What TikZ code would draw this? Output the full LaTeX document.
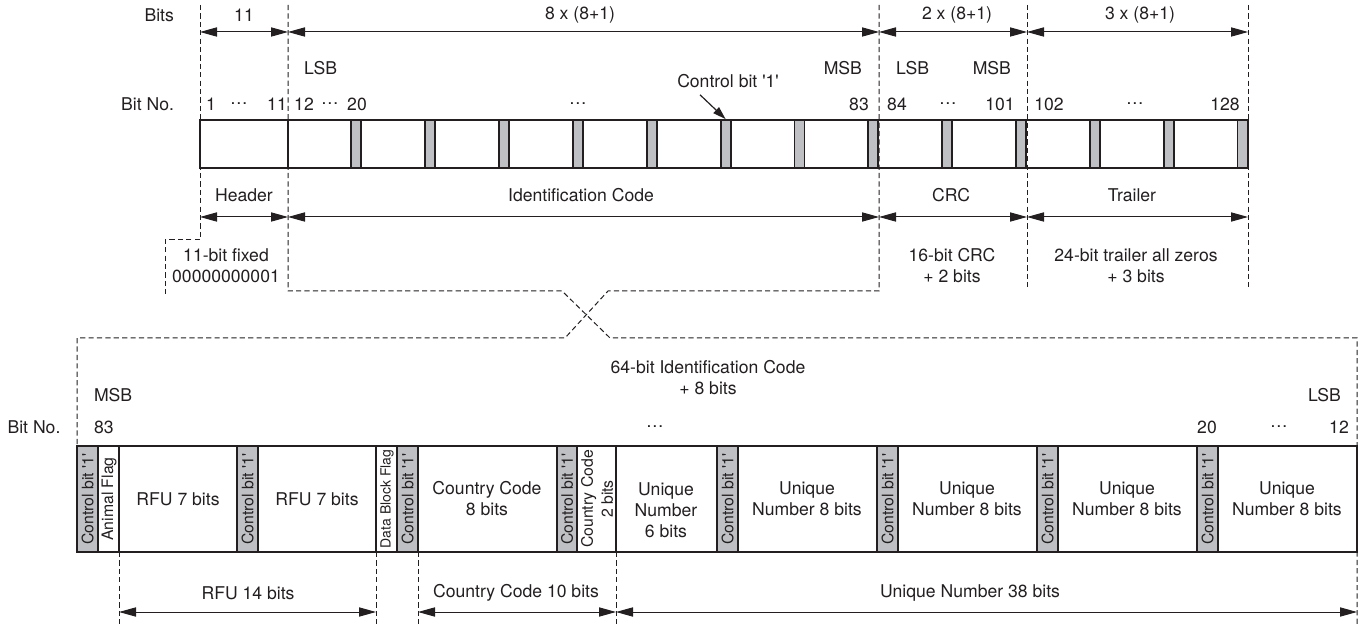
\documentclass[tikz,border=0pt]{standalone}
\usepackage{fontspec}
\usepackage{tikz}
\newfontfamily\heros{TeX Gyre Heros}
\usetikzlibrary{arrows.meta}
\definecolor{ink}{HTML}{231F20}
\definecolor{ctrlgray}{HTML}{BEC0C4}

\begin{document}
\begin{tikzpicture}[x=0.5pt, y=-0.5pt, text=ink,
  font=\heros\fontsize{8.8}{10.5}\selectfont,
  >={Triangle[length=8.5pt, width=4.6pt]},
  bar/.style={draw=ink, line width=1.2pt},
  thinsep/.style={draw=ink, line width=0.6pt},
  ctrlbit/.style={draw=ink, line width=0.9pt, fill=ctrlgray},
  guide/.style={draw=ink, line width=0.5pt, dash pattern=on 2.6pt off 1.6pt},
  dim/.style={<->, draw=ink, line width=0.5pt},
  ptr/.style={->, draw=ink, line width=0.6pt, >={Triangle[length=6.5pt, width=4pt]}},
  side/.style={rotate=90, align=center, inner sep=0pt,
    font=\heros\fontsize{7.9}{10}\selectfont}]
  \useasboundingbox (0,0) rectangle (1365,625);

  % dashed guides, upper frame
  \coordinate (t0) at (200,5);
  \coordinate (t1) at (288,5);
  \coordinate (t2) at (879,5);
  \coordinate (t3) at (1027,5);
  \coordinate (t4) at (1248,5);
  \draw[guide] (t0) -- (200,240) -- (165,240) -- (165,295);
  \draw[guide] (t1) -- (288,291) -- (562,291) -- (610,338) -- (1357,338) -- (1357,625);
  \draw[guide] (t2) -- (879,291) -- (608,291) -- (565,338) -- (77,338) -- (77,446);
  \draw[guide] (t3) -- (1027,289);
  \draw[guide] (t4) -- (1248,289);

  % bit counts
  \node[anchor=east] (bits) at (181,15) {Bits};
  \node (w11) at (244,15) {11};
  \node (w72) at (580,15) {8 x (8+1)};
  \node (w18) at (957,15) {2 x (8+1)};
  \node (w27) at (1140,15) {3 x (8+1)};
  \draw[dim] (t0 |- 0,32) -- (t1 |- 0,32);
  \draw[dim] (t1 |- 0,32) -- (t2 |- 0,32);
  \draw[dim] (t2 |- 0,32) -- (t3 |- 0,32);
  \draw[dim] (t3 |- 0,32) -- (t4 |- 0,32);

  % bit numbers
  \node[anchor=west] (lsb1) at (297,68) {LSB};
  \node[anchor=east] (msb1) at (869,68) {MSB};
  \node[anchor=west] (lsb2) at (889,68) {LSB};
  \node[anchor=east] (msb2) at (1018,68) {MSB};
  \node[anchor=east] (bitno) at (181,104) {Bit No.};
  \node (n1) at (211,104) {1};
  \node (d1) at (239,104) {…};
  \node (n11) at (277,104) {11};
  \node (n12) at (304,104) {12};
  \node (d2) at (330,104) {…};
  \node (n20) at (357,104) {20};
  \node (d3) at (578,104) {…};
  \node (n83) at (859,104) {83};
  \node (n84) at (897,104) {84};
  \node (d4) at (948,104) {…};
  \node (n101) at (1000,104) {101};
  \node (n102) at (1049,104) {102};
  \node (d5) at (1135,104) {…};
  \node (n128) at (1225,104) {128};

  % 128-bit frame
  \draw[bar] (200,120) rectangle (1248,168);
  \draw[bar] (288,120) -- (288,168);
  \foreach \k in {1,...,13}
    \node[ctrlbit, minimum width=5pt, minimum height=24pt, inner sep=0pt]
      (s\k) at ({288+73.85*\k-5.5},144) {};
  \node (cbl) at (728,81) {Control bit '1'};
  \draw[ptr] ([xshift=-14pt]cbl.south) -- (s6.north);

  % frame parts
  \node (hdr) at (244,195) {Header};
  \node (idc) at (581,195) {Identification Code};
  \node (crc) at (951,195) {CRC};
  \node (trl) at (1132,195) {Trailer};
  \draw[dim] (t0 |- 0,217) -- (t1 |- 0,217);
  \draw[dim] (t1 |- 0,217) -- (t2 |- 0,217);
  \draw[dim] (t2 |- 0,217) -- (t3 |- 0,217);
  \draw[dim] (t3 |- 0,217) -- (t4 |- 0,217);
  \node[align=center] (hdrtxt) at (226,266) {11-bit fixed\\00000000001};
  \node[align=center] (crctxt) at (952,266) {16-bit CRC\\+ 2 bits};
  \node[align=center] (trltxt) at (1136,266) {24-bit trailer all zeros\\+ 3 bits};

  % expanded identification code
  \node[align=center] (id64) at (708,378) {64-bit Identification Code\\+ 8 bits};
  \node[anchor=west] (msb3) at (87,395) {MSB};
  \node[anchor=east] (lsb3) at (1348,395) {LSB};
  \node (bitno2) at (34,427) {Bit No.};
  \node[anchor=west] (m83) at (87,427) {83};
  \node (d6) at (655,427) {…};
  \node (m20) at (1207,427) {20};
  \node (d7) at (1279,427) {…};
  \node (m12) at (1339,427) {12};

  \draw[bar] (77,446) rectangle (1357,552);
  \foreach \x in {119,376,616}
    \draw[thinsep] (\x,446) -- (\x,552);
  \foreach \a/\b [count=\i] in {77/98,237/258,397/418,557/577,717/738,877/898,1037/1058,1197/1218} {
    \draw[ctrlbit] (\a,446) rectangle (\b,552);
    \node[side] (c\i) at ({(\a+\b)/2},499) {Control bit '1'};
  }
  \node[side] (af) at (109,499) {Animal Flag};
  \node (rfu1) at (178,499) {RFU 7 bits};
  \node (rfu2) at (317,499) {RFU 7 bits};
  \node[side, font=\heros\fontsize{7}{8}\selectfont] (dbf) at (387,499) {Data Block Flag};
  \node[align=center] (cc8) at (487,499) {Country Code\\8 bits};
  \node[side] (cc2) at (597,499) {Country Code\\2 bits};
  \node[align=center] (un6) at (666,510) {Unique\\Number\\6 bits};
  \node[align=center] (un1) at (807,499) {Unique\\Number 8 bits};
  \node[align=center] (un2) at (967,499) {Unique\\Number 8 bits};
  \node[align=center] (un3) at (1127,499) {Unique\\Number 8 bits};
  \node[align=center] (un4) at (1287,499) {Unique\\Number 8 bits};

  % field groups
  \coordinate (g1) at (119,552);
  \coordinate (g2) at (376,552);
  \coordinate (g3) at (418,552);
  \coordinate (g4) at (616,552);
  \coordinate (g5) at (1357,552);
  \foreach \g in {g1,g2,g3,g4}
    \draw[guide] (\g) -- (\g |- 0,625);
  \node (rfu14) at (248,593) {RFU 14 bits};
  \node (cc10) at (516,593) {Country Code 10 bits};
  \node (un38) at (970,593) {Unique Number 38 bits};
  \draw[dim] (g1 |- 0,612) -- (g2 |- 0,612);
  \draw[dim] (g3 |- 0,612) -- (g4 |- 0,612);
  \draw[dim] (g4 |- 0,612) -- (g5 |- 0,612);
\end{tikzpicture}
\end{document}
